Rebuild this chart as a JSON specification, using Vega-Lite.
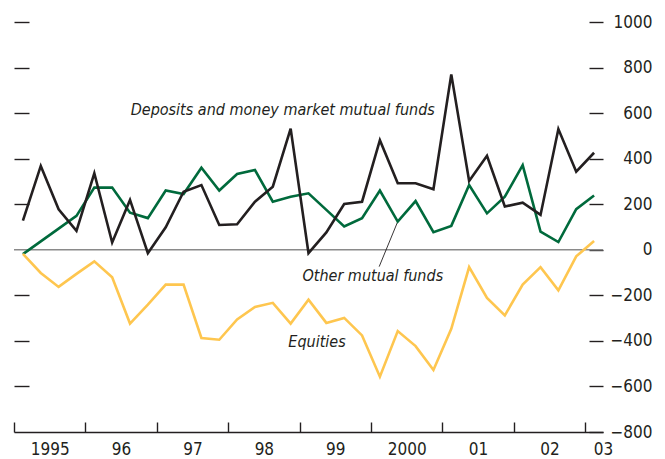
{
  "$schema": "https://vega.github.io/schema/vega-lite/v6.json",
  "width": 589,
  "height": 410,
  "autosize": {"type": "none"},
  "padding": {"left": 14, "top": 22, "right": 62, "bottom": 27},
  "background": "white",
  "config": {
    "view": {"stroke": null},
    "font": "DejaVu Sans Condensed",
    "axis": {"grid": false, "title": null, "labelFont": "DejaVu Sans Condensed", "labelFontSize": 17, "labelColor": "#231f20", "tickColor": "#231f20", "tickWidth": 1.4, "domainColor": "#231f20", "domainWidth": 1.4}
  },
  "datasets": {
    "flows": [
      {"t": 1995.125, "s": "Deposits", "v": 128}, {"t": 1995.375, "s": "Deposits", "v": 368}, {"t": 1995.625, "s": "Deposits", "v": 178}, {"t": 1995.875, "s": "Deposits", "v": 83},
      {"t": 1996.125, "s": "Deposits", "v": 336}, {"t": 1996.375, "s": "Deposits", "v": 32}, {"t": 1996.625, "s": "Deposits", "v": 219}, {"t": 1996.875, "s": "Deposits", "v": -15},
      {"t": 1997.125, "s": "Deposits", "v": 99}, {"t": 1997.375, "s": "Deposits", "v": 255}, {"t": 1997.625, "s": "Deposits", "v": 284}, {"t": 1997.875, "s": "Deposits", "v": 109},
      {"t": 1998.125, "s": "Deposits", "v": 112}, {"t": 1998.375, "s": "Deposits", "v": 211}, {"t": 1998.625, "s": "Deposits", "v": 277}, {"t": 1998.875, "s": "Deposits", "v": 532},
      {"t": 1999.125, "s": "Deposits", "v": -15}, {"t": 1999.375, "s": "Deposits", "v": 76}, {"t": 1999.625, "s": "Deposits", "v": 201}, {"t": 1999.875, "s": "Deposits", "v": 211},
      {"t": 2000.125, "s": "Deposits", "v": 481}, {"t": 2000.375, "s": "Deposits", "v": 292}, {"t": 2000.625, "s": "Deposits", "v": 292}, {"t": 2000.875, "s": "Deposits", "v": 266},
      {"t": 2001.125, "s": "Deposits", "v": 770}, {"t": 2001.375, "s": "Deposits", "v": 302}, {"t": 2001.625, "s": "Deposits", "v": 413}, {"t": 2001.875, "s": "Deposits", "v": 190},
      {"t": 2002.125, "s": "Deposits", "v": 207}, {"t": 2002.375, "s": "Deposits", "v": 153}, {"t": 2002.625, "s": "Deposits", "v": 530}, {"t": 2002.875, "s": "Deposits", "v": 343},
      {"t": 2003.125, "s": "Deposits", "v": 426},
      {"t": 1995.125, "s": "Other", "v": -19}, {"t": 1995.375, "s": "Other", "v": 37}, {"t": 1995.625, "s": "Other", "v": 93}, {"t": 1995.875, "s": "Other", "v": 149},
      {"t": 1996.125, "s": "Other", "v": 273}, {"t": 1996.375, "s": "Other", "v": 273}, {"t": 1996.625, "s": "Other", "v": 163}, {"t": 1996.875, "s": "Other", "v": 139},
      {"t": 1997.125, "s": "Other", "v": 260}, {"t": 1997.375, "s": "Other", "v": 245}, {"t": 1997.625, "s": "Other", "v": 360}, {"t": 1997.875, "s": "Other", "v": 260},
      {"t": 1998.125, "s": "Other", "v": 333}, {"t": 1998.375, "s": "Other", "v": 350}, {"t": 1998.625, "s": "Other", "v": 211}, {"t": 1998.875, "s": "Other", "v": 233},
      {"t": 1999.125, "s": "Other", "v": 248}, {"t": 1999.375, "s": "Other", "v": 175}, {"t": 1999.625, "s": "Other", "v": 102}, {"t": 1999.875, "s": "Other", "v": 139},
      {"t": 2000.125, "s": "Other", "v": 260}, {"t": 2000.375, "s": "Other", "v": 124}, {"t": 2000.625, "s": "Other", "v": 214}, {"t": 2000.875, "s": "Other", "v": 77},
      {"t": 2001.125, "s": "Other", "v": 105}, {"t": 2001.375, "s": "Other", "v": 284}, {"t": 2001.625, "s": "Other", "v": 160}, {"t": 2001.875, "s": "Other", "v": 233},
      {"t": 2002.125, "s": "Other", "v": 372}, {"t": 2002.375, "s": "Other", "v": 80}, {"t": 2002.625, "s": "Other", "v": 34}, {"t": 2002.875, "s": "Other", "v": 178},
      {"t": 2003.125, "s": "Other", "v": 238},
      {"t": 1995.125, "s": "Equities", "v": -18}, {"t": 1995.375, "s": "Equities", "v": -102}, {"t": 1995.625, "s": "Equities", "v": -163}, {"t": 1995.875, "s": "Equities", "v": -106},
      {"t": 1996.125, "s": "Equities", "v": -51}, {"t": 1996.375, "s": "Equities", "v": -121}, {"t": 1996.625, "s": "Equities", "v": -324}, {"t": 1996.875, "s": "Equities", "v": -241},
      {"t": 1997.125, "s": "Equities", "v": -153}, {"t": 1997.375, "s": "Equities", "v": -153}, {"t": 1997.625, "s": "Equities", "v": -387}, {"t": 1997.875, "s": "Equities", "v": -395},
      {"t": 1998.125, "s": "Equities", "v": -306}, {"t": 1998.375, "s": "Equities", "v": -251}, {"t": 1998.625, "s": "Equities", "v": -233}, {"t": 1998.875, "s": "Equities", "v": -324},
      {"t": 1999.125, "s": "Equities", "v": -219}, {"t": 1999.375, "s": "Equities", "v": -321}, {"t": 1999.625, "s": "Equities", "v": -299}, {"t": 1999.875, "s": "Equities", "v": -376},
      {"t": 2000.125, "s": "Equities", "v": -557}, {"t": 2000.375, "s": "Equities", "v": -357}, {"t": 2000.625, "s": "Equities", "v": -423}, {"t": 2000.875, "s": "Equities", "v": -528},
      {"t": 2001.125, "s": "Equities", "v": -347}, {"t": 2001.375, "s": "Equities", "v": -76}, {"t": 2001.625, "s": "Equities", "v": -211}, {"t": 2001.875, "s": "Equities", "v": -288},
      {"t": 2002.125, "s": "Equities", "v": -153}, {"t": 2002.375, "s": "Equities", "v": -76}, {"t": 2002.625, "s": "Equities", "v": -178}, {"t": 2002.875, "s": "Equities", "v": -29},
      {"t": 2003.125, "s": "Equities", "v": 39}
    ],
    "labels": [
      {"label": "Deposits and money market mutual funds", "t": 1996.635, "v": 613},
      {"label": "Other mutual funds", "t": 1999.04, "v": -114},
      {"label": "Equities", "t": 1998.843, "v": -403}
    ],
    "zero": [{"v": 0}],
    "leader": [{"t1": 2000.375, "v1": 124, "t2": 2000.115, "v2": -74}]
  },
  "layer": [
    {
      "data": {"name": "zero"},
      "mark": {"type": "rule", "color": "#8a8a8a", "strokeWidth": 1.6},
      "encoding": {
        "y": {"field": "v", "type": "quantitative", "scale": {"domain": [-800, 1000], "nice": false, "zero": false}, "axis": null}
      }
    },
    {
      "data": {"name": "leader"},
      "mark": {"type": "rule", "color": "#231f20", "strokeWidth": 0.9},
      "encoding": {
        "x": {"field": "t1", "type": "quantitative", "scale": {"domain": [1995, 2003.25], "nice": false, "zero": false}, "axis": null},
        "y": {"field": "v1", "type": "quantitative", "axis": null},
        "x2": {"field": "t2"},
        "y2": {"field": "v2"}
      }
    },
    {
      "data": {"name": "flows"},
      "transform": [{"filter": "datum.s == 'Other'"}],
      "mark": {"type": "line", "color": "#006a3c", "strokeWidth": 2.6},
      "encoding": {
        "x": {"field": "t", "type": "quantitative", "scale": {"domain": [1995, 2003.25], "nice": false, "zero": false},
              "axis": {"orient": "bottom", "values": [1995, 1996, 1997, 1998, 1999, 2000, 2001, 2002, 2003], "labels": false, "tickSize": -10, "domain": true}},
        "y": {"field": "v", "type": "quantitative", "scale": {"domain": [-800, 1000], "nice": false, "zero": false},
              "axis": {"orient": "left", "values": [-600, -400, -200, 200, 400, 600, 800, 1000], "labels": false, "tickSize": -15, "domain": false}}
      }
    },
    {
      "data": {"name": "flows"},
      "transform": [{"filter": "datum.s == 'Deposits'"}],
      "mark": {"type": "line", "color": "#231f20", "strokeWidth": 2.6},
      "encoding": {
        "x": {"field": "t", "type": "quantitative",
              "axis": {"orient": "bottom", "values": [1995.5, 1996.5, 1997.5, 1998.5, 1999.5, 2000.5, 2001.5, 2002.5, 2003.25], "labelExpr": "datum.value == 1995.5 ? '1995' : datum.value == 2000.5 ? '2000' : datum.value > 2003 ? '03' : substring('' + floor(datum.value), 2, 4)", "ticks": false, "domain": false, "labelPadding": 22, "labelBaseline": "alphabetic", "labelFlush": false, "labelOverlap": false}},
        "y": {"field": "v", "type": "quantitative",
              "axis": {"orient": "right", "values": [-800, -600, -400, -200, 0, 200, 400, 600, 800, 1000], "format": "d", "tickSize": -14, "domain": false, "labelAlign": "right", "labelPadding": 63, "labelBaseline": "middle"}}
      }
    },
    {
      "data": {"name": "flows"},
      "transform": [{"filter": "datum.s == 'Equities'"}],
      "mark": {"type": "line", "color": "#fec64f", "strokeWidth": 2.6},
      "encoding": {
        "x": {"field": "t", "type": "quantitative", "axis": null},
        "y": {"field": "v", "type": "quantitative", "axis": null}
      }
    },
    {
      "data": {"name": "labels"},
      "mark": {"type": "text", "align": "left", "baseline": "middle", "fontStyle": "italic", "fontSize": 16, "color": "#231f20", "font": "DejaVu Sans Condensed"},
      "encoding": {
        "x": {"field": "t", "type": "quantitative", "axis": null},
        "y": {"field": "v", "type": "quantitative", "axis": null},
        "text": {"field": "label"}
      }
    }
  ],
  "resolve": {"axis": {"x": "independent", "y": "independent"}}
}
